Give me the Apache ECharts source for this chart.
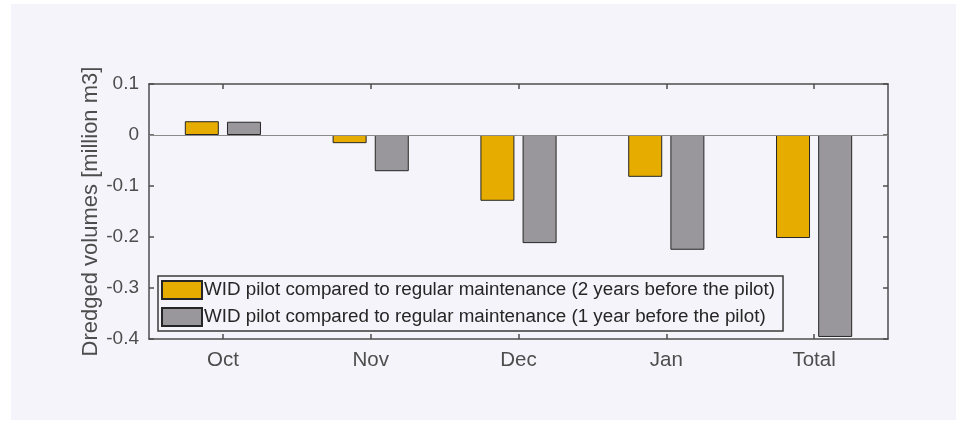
<!DOCTYPE html>
<html><head><meta charset="utf-8">
<script src="https://cdn.jsdelivr.net/npm/echarts@6/dist/echarts.min.js"></script>
<style>html,body{margin:0;padding:0;background:#ffffff;}#c{width:963px;height:424px;}</style>
</head><body><div id="c"></div>
<script>
const categories = ['Oct', 'Nov', 'Dec', 'Jan', 'Total'];
const seriesNames = [
  'WID pilot compared to regular maintenance (2 years before the pilot)',
  'WID pilot compared to regular maintenance (1 year before the pilot)'
];
const twoYearsBefore = [0.027, -0.016, -0.129, -0.082, -0.202];
const oneYearBefore = [0.026, -0.071, -0.212, -0.225, -0.396];
const yMin = -0.4, yMax = 0.1, yStep = 0.1;

const chart = echarts.init(document.getElementById('c'), null, {renderer: 'canvas'});
const axisCol = '#4d4d4d';
const font = 'Liberation Sans, Arial, sans-serif';
const gridBox = {left: 149, right: 75, top: 84, bottom: 85};
const bar = (name, data, color) => ({
  name, type: 'bar', data, xAxisIndex: 0, yAxisIndex: 0,
  barWidth: 34, barGap: '24%',
  itemStyle: {color, borderColor: '#262626', borderWidth: 1},
  emphasis: {disabled: true}
});
const s1 = bar(seriesNames[0], twoYearsBefore, '#e6ac00');
s1.markLine = {silent: true, symbol: 'none', label: {show: false},
  lineStyle: {color: '#8a8a8a', width: 1, type: 'solid'}, data: [{yAxis: 0}], animation: false};
const s2 = bar(seriesNames[1], oneYearBefore, '#99979c');

chart.setOption({
  animation: false,
  backgroundColor: 'transparent',
  graphic: [{type: 'rect', z: -10, silent: true, shape: {x: 11, y: 4, width: 945, height: 416}, style: {fill: '#f5f4fa'}}],
  textStyle: {fontFamily: font},
  grid: gridBox,
  legend: {
    orient: 'vertical', left: 158, top: 276, padding: [4, 8, 4, 3],
    itemWidth: 40, itemHeight: 18, itemGap: 7, icon: 'rect',
    borderColor: '#3a3a3a', borderWidth: 1.5, backgroundColor: '#f5f4fa',
    textStyle: {fontSize: 18.8, color: '#262626', fontFamily: font, padding: [0, 0, 0, -3]},
    selectedMode: false
  },
  xAxis: [{
    type: 'category', data: categories, position: 'bottom',
    axisLine: {show: true, onZero: false, lineStyle: {color: axisCol, width: 1.5}},
    axisTick: {show: true, inside: true, alignWithLabel: true, length: 5, lineStyle: {color: axisCol, width: 1.5}},
    axisLabel: {fontSize: 20.5, color: axisCol, margin: 11, fontFamily: font},
    splitLine: {show: false}
  }, {
    type: 'category', data: categories, position: 'top',
    axisLine: {show: true, onZero: false, lineStyle: {color: axisCol, width: 1.5}},
    axisTick: {show: true, inside: true, alignWithLabel: true, length: 5, lineStyle: {color: axisCol, width: 1.5}},
    axisLabel: {show: false}, splitLine: {show: false}
  }],
  yAxis: [{
    type: 'value', min: yMin, max: yMax, interval: yStep, position: 'left',
    name: 'Dredged volumes [million m3]', nameLocation: 'middle', nameGap: 47,
    nameMoveOverlap: false,
    nameTextStyle: {fontSize: 22, color: axisCol, fontFamily: font},
    axisLine: {show: true, onZero: false, lineStyle: {color: axisCol, width: 1.5}},
    axisTick: {show: true, inside: true, length: 5, lineStyle: {color: axisCol, width: 1.5}},
    axisLabel: {fontSize: 19, color: axisCol, margin: 10, fontFamily: font,
      formatter: v => String(+v.toFixed(1))},
    splitLine: {show: false}
  }, {
    type: 'value', min: yMin, max: yMax, interval: yStep, position: 'right',
    axisLine: {show: true, onZero: false, lineStyle: {color: axisCol, width: 1.5}},
    axisTick: {show: true, inside: true, length: 5, lineStyle: {color: axisCol, width: 1.5}},
    axisLabel: {show: false}, splitLine: {show: false}
  }],
  series: [s1, s2]
});
</script></body></html>
